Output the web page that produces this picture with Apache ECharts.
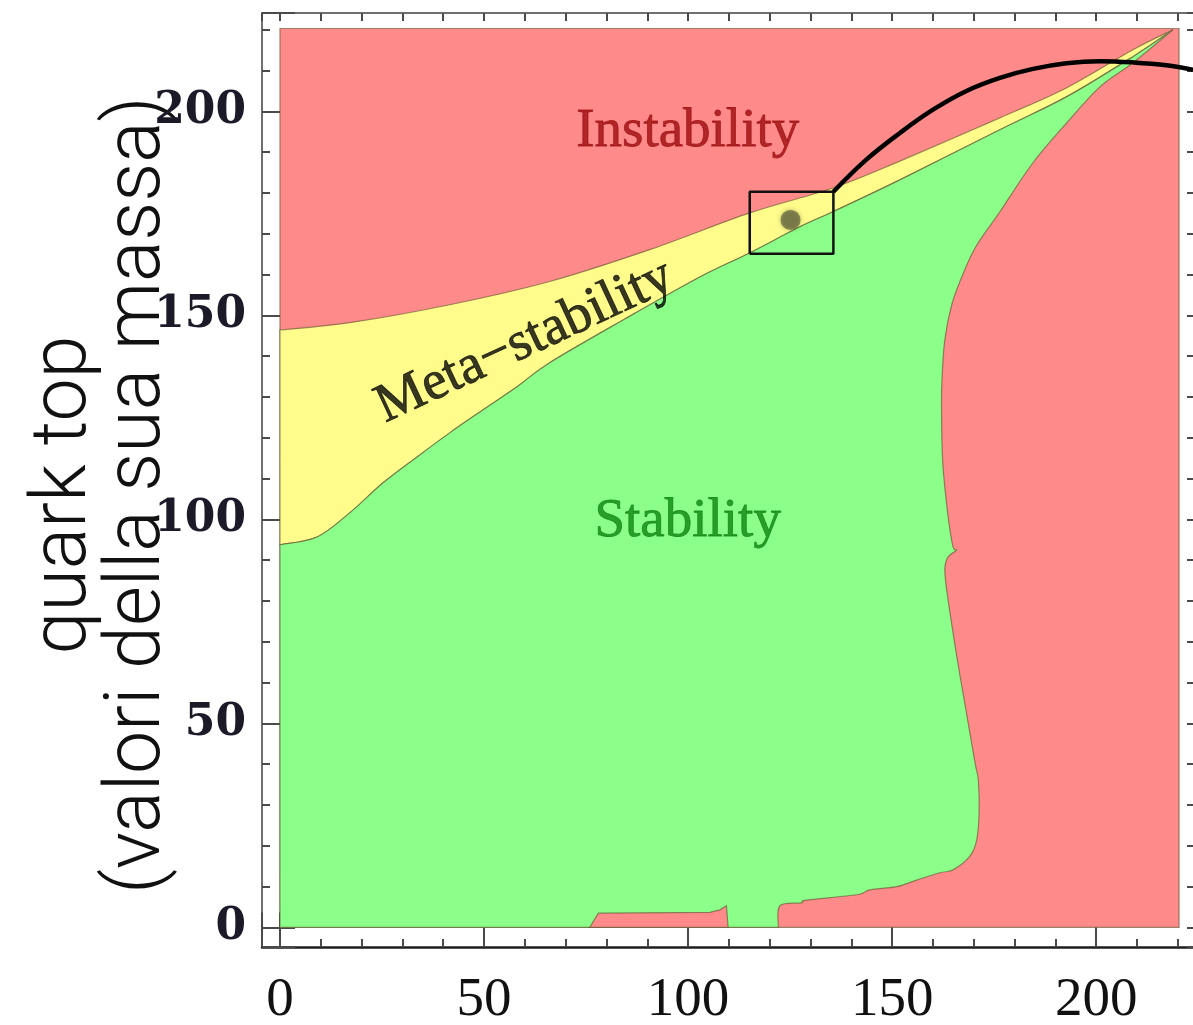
<!DOCTYPE html>
<html><head><meta charset="utf-8">
<script src="https://cdn.jsdelivr.net/npm/echarts@6/dist/echarts.min.js"></script>
<style>html,body{margin:0;padding:0;background:#fff;overflow:hidden}#c{width:1193px;height:1025px}</style>
</head><body><div id="c"></div>
<script>
// ---------- data (axis units) ----------
const domainMax = [220.3, 220.3];
const apex = [218.8, 220.0];
// instability / meta-stability boundary (left -> right)
const upperBoundary = [[0,146.4],[17.1,148.2],[41.6,152.6],[66.1,158.3],[90.6,166.1],[115.1,175.1],[135.5,181.2],[151.9,187.8],[176.4,198.4],[192.8,205.8],[209.0,215.1]];
// meta-stability / stability boundary (left -> right)
const lowerBoundary = [[0,93.8],[9.1,95.7],[17.1,101.6],[25.2,108.9],[33.6,115.3],[41.6,121.2],[49.7,126.8],[58.1,132.5],[66.1,138.4],[84.5,149.1],[102.9,159.4],[115.1,165.3],[127.4,171.7],[135.5,175.4],[151.9,183.2],[176.4,195.5],[192.8,203.6],[209.0,213.4]];
// stability / instability boundary on the right (apex -> bottom)
const rightBoundary = [[209.0,211.9],[200.9,206.0],[192.8,197.2],[184.5,187.4],[176.4,175.4],[170.6,167.0],[167.3,160.0],[164.6,152.6],[162.9,144.0],[162.2,134.2],[162.1,126.1],[162.4,113.8],[163.6,101.6],[164.9,93.3],[165.8,92.5],[163.7,90.8],[162.9,87.6],[163.6,81.0],[166.1,64.8],[168.2,52.6],[170.3,40.3],[171.1,36.2],[171.3,28.1],[170.7,21.4],[169.0,17.4],[164.9,14.1],[161.7,13.4],[156.0,11.6],[151.1,10.0],[144.5,9.2],[141.3,8.0],[129.0,6.7],[127.8,6.0],[122.5,5.3],[122.1,0]];
// small instability patch at the bottom
const bottomPatch = [[75.9,0],[78.0,3.5],[105.3,3.7],[107.8,4.3],[109.4,5.3],[109.8,0]];
// highlighted box, point and outgoing curve
const boxCorners = [[115.1,165.1],[135.6,165.1],[135.6,180.3],[115.1,180.3],[115.1,165.1]];
const higgsPoint = [[125.1,173.4]];
const curvePoints = [[135.6,180.3],[143.6,188.1],[151.9,194.7],[160.0,200.4],[168.2,205.0],[176.4,208.2],[184.5,210.4],[192.7,211.8],[200.9,212.3],[209.0,212.0],[217.2,211.3],[223.7,210.2]];
// region names and their anchors
const regionLabels = ['Instability','Stability','Meta\u2212stability'];
const regionLabelPos = [[99.9,195.0],[99.9,99.4],[60.0,143.5]];
// tick labels
const xTickLabels = [0,50,100,150,200];
const yTickLabels = [0,50,100,150,200];
const yAxisTitle = 'quark top\n(valori della sua massa)';

// ---------- styles ----------
const RED = '#FF8A8A', GREEN = '#8CFF8A', YELLOW = '#FFFC8C';
const EDGE = 'rgba(90,80,45,0.6)';
const labelStyles = {
  'Instability': {color:'#9C0C0E', rotate:0},
  'Stability': {color:'#0E8612', rotate:0},
  'Meta\u2212stability': {color:'#050505', rotate:25}
};

function spline(pts){
  let d='';
  for(let i=0;i<pts.length-1;i++){
    const p0=pts[Math.max(i-1,0)], p1=pts[i], p2=pts[i+1], p3=pts[Math.min(i+2,pts.length-1)];
    const t=1/6;
    d+=' C'+(p1[0]+(p2[0]-p0[0])*t)+','+(p1[1]+(p2[1]-p0[1])*t)+' '+(p2[0]-(p3[0]-p1[0])*t)+','+(p2[1]-(p3[1]-p1[1])*t)+' '+p2[0]+','+p2[1];
  }
  return d;
}
function pt(p){return p[0]+','+p[1];}

function region(name, build, fill){
  return {type:'custom', name, coordinateSystem:'cartesian2d', xAxisIndex:0, yAxisIndex:0, silent:true, clip:true,
    data:[[0,0]],
    renderItem:(params, api)=>({type:'path', shape:{pathData: build(p=>api.coord(p))},
      style:{fill, stroke:EDGE, lineWidth:1.2}})};
}

const bgBuild = c => { const a=c([0,0]), b=c([domainMax[0],0]), e=c([domainMax[0],domainMax[1]]), f=c([0,domainMax[1]]);
  return 'M'+pt(a)+' L'+pt(b)+' L'+pt(e)+' L'+pt(f)+' Z'; };
const yellowBuild = c => { const up=upperBoundary.concat([apex]).map(c); const lo=[apex].concat(lowerBoundary.slice().reverse()).map(c);
  return 'M'+pt(up[0])+spline(up)+spline(lo)+' Z'; };
const greenBuild = c => { const lo=lowerBoundary.concat([apex]).map(c); const rt=[apex].concat(rightBoundary).map(c);
  return 'M'+pt(c([0,0]))+' L'+pt(lo[0])+spline(lo)+spline(rt)+' Z'; };
const patchBuild = c => { const p=bottomPatch.map(c); return 'M'+p.map(pt).join(' L')+' Z'; };

const XMIN=-4.4, XMAX=224.2, YMIN=-4.8, YMAX=224.1;
const minorTick = {show:true, inside:true, length:8, lineStyle:{color:'#4a4a4a', width:2}};
const majorTick = {show:true, inside:true, length:15, lineStyle:{color:'#4a4a4a', width:2}};
function xa(pos, split, tick, extra){
  return Object.assign({type:'value', position:pos, min:XMIN, max:XMAX, splitNumber:split, scale:true,
    axisLine:{show:false}, axisTick:tick, axisLabel:{show:false}, splitLine:{show:false}}, extra||{});
}
function ya(pos, split, tick, extra){
  return Object.assign({type:'value', position:pos, min:YMIN, max:YMAX, splitNumber:split, scale:true,
    axisLine:{show:false}, axisTick:tick, axisLabel:{show:false}, splitLine:{show:false}}, extra||{});
}

const option = {
  backgroundColor:'#ffffff',
  animation:false,
  grid:{left:262, right:-2, top:13, bottom:78, containLabel:false, outerBoundsMode:'none'},
  xAxis:[
    xa('bottom',23,minorTick,{axisLine:{show:true,onZero:false,lineStyle:{color:'#1e1e1e',width:2.5}},
      axisLabel:{show:true, margin:26, fontFamily:'Liberation Serif', fontSize:55, color:'#111',
        showMinLabel:true, showMaxLabel:true, hideOverlap:false,
        formatter:v=> xTickLabels.indexOf(Math.round(v*1000)/1000)>=0 ? String(Math.round(v)) : ''}}),
    xa('bottom',5,majorTick),
    xa('top',23,minorTick,{axisLine:{show:true,onZero:false,lineStyle:{color:'#707070',width:2}}}),
    xa('top',5,majorTick)
  ],
  yAxis:[
    ya('left',23,minorTick,{axisLine:{show:true,onZero:false,lineStyle:{color:'#707070',width:2}},
      axisLabel:{show:true, margin:16, fontFamily:'DejaVu Serif', fontWeight:'bold', fontSize:44, color:'#1c1a28',
        showMinLabel:true, showMaxLabel:true, hideOverlap:false,
        formatter:v=> yTickLabels.indexOf(Math.round(v*1000)/1000)>=0 ? String(Math.round(v)) : ''},
      name:yAxisTitle, nameLocation:'middle', nameRotate:90, nameGap:85, nameMoveOverlap:false,
      nameTextStyle:{fontFamily:'Roboto', fontWeight:300, fontSize:77, lineHeight:74, color:'#111', padding:[0,30,0,0]}}),
    ya('left',5,majorTick),
    ya('right',23,minorTick,{axisLine:{show:true,onZero:false,lineStyle:{color:'#707070',width:2}}}),
    ya('right',5,majorTick)
  ],
  series:[
    region('instability', bgBuild, RED),
    region('meta-stability', yellowBuild, YELLOW),
    region('stability', greenBuild, GREEN),
    region('instability-bottom', patchBuild, RED),
    {type:'line', name:'box', data:boxCorners, xAxisIndex:0, yAxisIndex:0, symbol:'none', silent:true,
      lineStyle:{color:'#111', width:2.5}, z:5},
    {type:'scatter', name:'point', data:higgsPoint, xAxisIndex:0, yAxisIndex:0, symbolSize:20, silent:true,
      itemStyle:{color:'rgba(80,84,55,0.78)', shadowBlur:4, shadowColor:'rgba(60,60,40,0.6)'}, z:6},
    {type:'line', name:'curve', data:curvePoints, xAxisIndex:0, yAxisIndex:0, symbol:'none', smooth:0.4, silent:true,
      lineStyle:{color:'#000', width:4.5}, z:7},
    {type:'scatter', name:'labels', xAxisIndex:0, yAxisIndex:0, symbolSize:1, silent:true, z:8,
      itemStyle:{color:'rgba(0,0,0,0)'},
      data: regionLabels.map((t,i)=>({value:regionLabelPos[i], name:t,
        label:{show:true, position:'inside', formatter:t, fontFamily:'Liberation Serif', fontSize:55,
          color:labelStyles[t].color, textBorderColor:labelStyles[t].color, textBorderWidth:0.8,
          rotate:labelStyles[t].rotate}}))}
  ]
};
const chart = echarts.init(document.getElementById('c'), null, {renderer:'canvas'});
chart.setOption(option);
</script>
</body></html>
